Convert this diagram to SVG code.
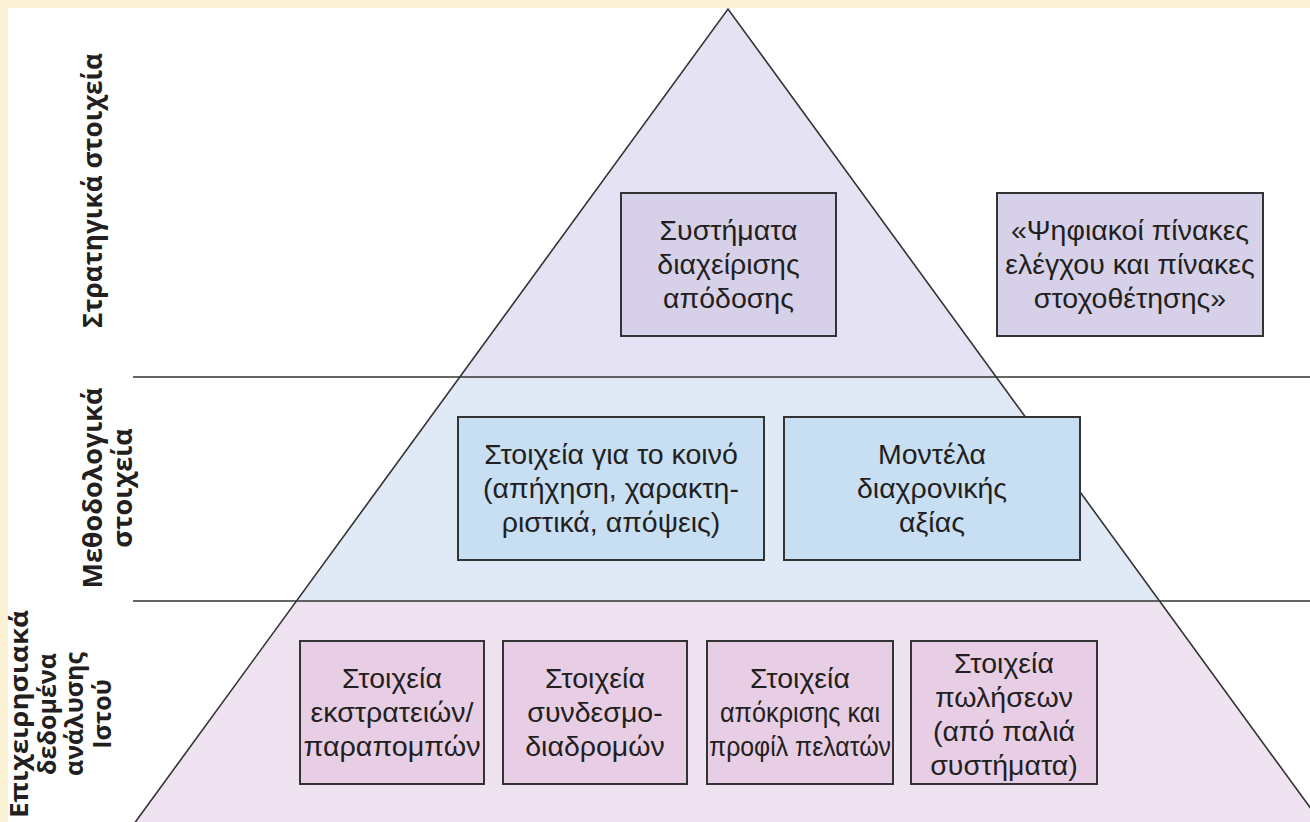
<svg xmlns="http://www.w3.org/2000/svg" width="1310" height="822" viewBox="0 0 1310 822">
<style>
.lbl{font-family:"Open Sans","Liberation Sans",sans-serif;font-weight:bold;font-size:27px;fill:#231f20;text-anchor:middle}
.lbl2{font-size:25px}
.t{font-family:"Liberation Sans",Arial,sans-serif;font-size:28.5px;fill:#231f20;text-anchor:middle}
.box{stroke:#333;stroke-width:2}
.b1{fill:#d6d1e9}.b2{fill:#c7def3}.b3{fill:#e7cee5}
.ln{stroke:#333;stroke-width:1.6;fill:none}
</style>
<rect x="0" y="0" width="1310" height="822" fill="#fbf1d5"/>
<rect x="8" y="8" width="1302" height="814" fill="#ffffff"/>
<g id="pyramid">
<polygon points="728,9 996.2,377 459.8,377" fill="#e5e3f3"/>
<polygon points="459.8,377 996.2,377 1159.5,601 296.5,601" fill="#dfeaf6"/>
<polygon points="296.5,601 1159.5,601 1377.5,900 78.5,900" fill="#f0e3f1"/>
</g>
<g id="connectors">
<path class="ln" d="M78.5,900 L728,9 L1377.5,900"/>
<line class="ln" x1="133" y1="377" x2="1310" y2="377"/>
<line class="ln" x1="133" y1="601" x2="1310" y2="601"/>
</g>
<g id="label-strategic"><text class="lbl" transform="translate(102,190.5) rotate(-90)" x="0" y="0" textLength="275" lengthAdjust="spacingAndGlyphs">Στρατηγικά στοιχεία</text></g>
<g id="label-method"><text class="lbl" transform="translate(102,488) rotate(-90)"><tspan x="0" y="0">Μεθοδολογικά</tspan><tspan x="0" y="30">στοιχεία</tspan></text></g>
<g id="label-ops"><text class="lbl lbl2" transform="translate(28,714) rotate(-90)"><tspan x="0" y="0" textLength="208" lengthAdjust="spacingAndGlyphs">Επιχειρησιακά</tspan><tspan x="0" y="27.5">δεδομένα</tspan><tspan x="0" y="55">ανάλυσης</tspan><tspan x="0" y="82.5">Ιστού</tspan></text></g>
<g id="n-performance"><rect class="box b1" x="621" y="193" width="215" height="143"/><text class="t"><tspan x="728.5" y="240">Συστήματα</tspan><tspan x="728.5" y="274">διαχείρισης</tspan><tspan x="728.5" y="308">απόδοσης</tspan></text></g>
<g id="n-dashboards"><rect class="box b1" x="997" y="193" width="266" height="143"/><text class="t"><tspan x="1130" y="240">«Ψηφιακοί πίνακες</tspan><tspan x="1130" y="274">ελέγχου και πίνακες</tspan><tspan x="1130" y="308">στοχοθέτησης»</tspan></text></g>
<g id="n-audience"><rect class="box b2" x="458" y="417" width="306" height="143"/><text class="t"><tspan x="611" y="464">Στοιχεία για το κοινό</tspan><tspan x="611" y="498">(απήχηση, χαρακτη-</tspan><tspan x="611" y="532">ριστικά, απόψεις)</tspan></text></g>
<g id="n-lifetime"><rect class="box b2" x="784" y="417" width="296" height="143"/><text class="t"><tspan x="932" y="464">Μοντέλα</tspan><tspan x="932" y="498">διαχρονικής</tspan><tspan x="932" y="532">αξίας</tspan></text></g>
<g id="n-campaigns"><rect class="box b3" x="300" y="641" width="184" height="143"/><text class="t"><tspan x="392" y="688">Στοιχεία</tspan><tspan x="392" y="722">εκστρατειών/</tspan><tspan x="392" y="756" textLength="177" lengthAdjust="spacingAndGlyphs">παραπομπών</tspan></text></g>
<g id="n-clickstream"><rect class="box b3" x="503" y="641" width="184" height="143"/><text class="t"><tspan x="595" y="688">Στοιχεία</tspan><tspan x="595" y="722">συνδεσμο-</tspan><tspan x="595" y="756">διαδρομών</tspan></text></g>
<g id="n-response"><rect class="box b3" x="707" y="641" width="186" height="143"/><text class="t"><tspan x="800" y="688">Στοιχεία</tspan><tspan x="800" y="722" textLength="160" lengthAdjust="spacingAndGlyphs">απόκρισης και</tspan><tspan x="800" y="756" textLength="182" lengthAdjust="spacingAndGlyphs">προφίλ πελατών</tspan></text></g>
<g id="n-sales"><rect class="box b3" x="911" y="641" width="186" height="143"/><text class="t"><tspan x="1004" y="673">Στοιχεία</tspan><tspan x="1004" y="707">πωλήσεων</tspan><tspan x="1004" y="741">(από παλιά</tspan><tspan x="1004" y="775">συστήματα)</tspan></text></g>
</svg>
